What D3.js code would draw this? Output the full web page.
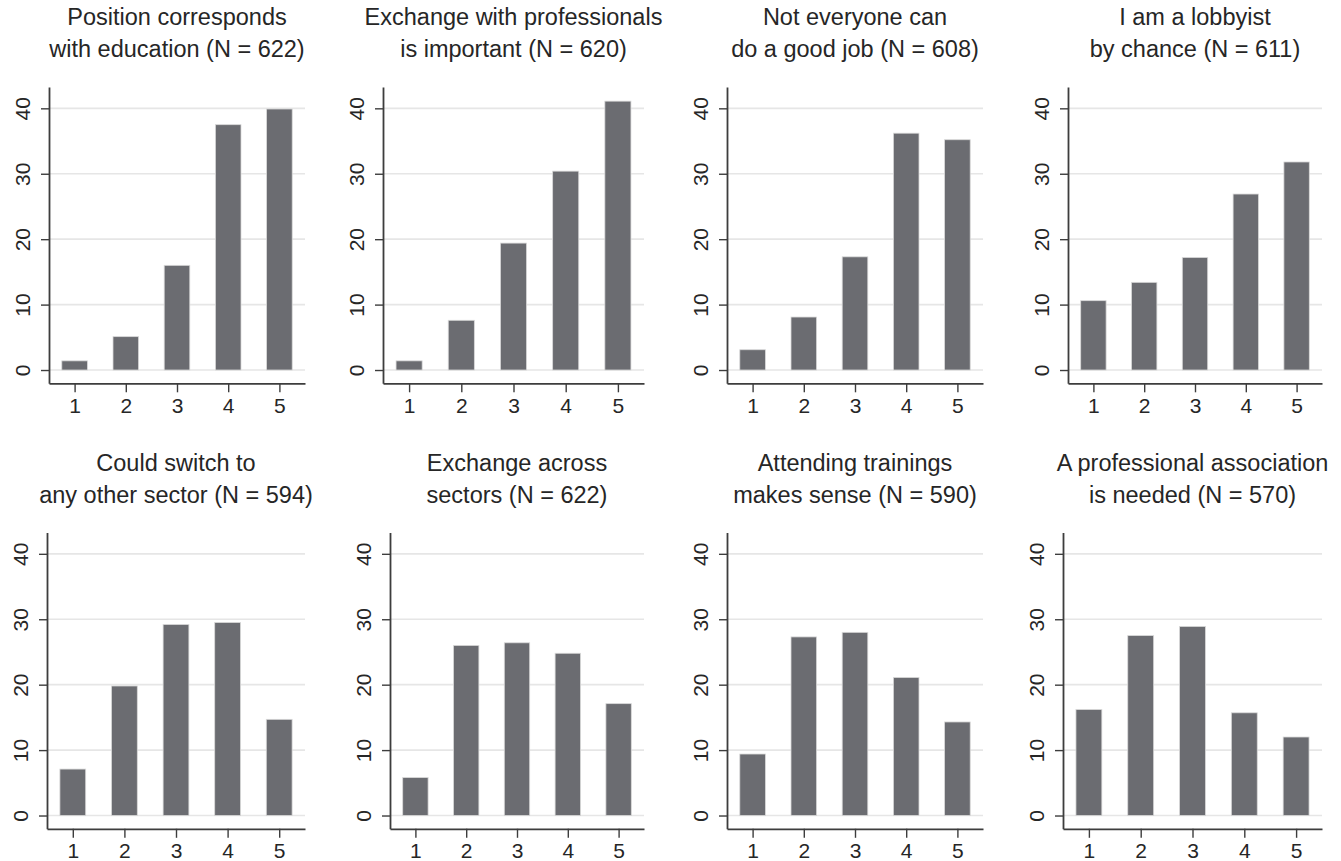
<!DOCTYPE html>
<html lang="en">
<head>
<meta charset="UTF-8">
<title>Lobbyist attitudes</title>
<script src="https://cdn.jsdelivr.net/npm/d3@7"></script>
<style>
  body { margin: 0; background: #fff; }
  svg { display: block; font-family: "Liberation Sans", Arial, sans-serif; }
</style>
</head>
<body>
<svg width="1341" height="861"></svg>
<script>
// answer categories (1 = disagree ... 5 = agree)
var categories = [1, 2, 3, 4, 5];
var yTicks = [0, 10, 20, 30, 40];

// panel titles (two lines each)
var titleLine1 = ["Position corresponds", "Exchange with professionals", "Not everyone can", "I am a lobbyist",
                  "Could switch to", "Exchange across", "Attending trainings", "A professional association"];
var titleLine2 = ["with education", "is important", "do a good job", "by chance",
                  "any other sector", "sectors", "makes sense", "is needed"];
var nValues = [622, 620, 608, 611, 594, 622, 590, 570];

// percent per category
var positionEducation = [1.4, 5.1, 16.0, 37.5, 39.9];
var exchangeProfessionals = [1.4, 7.6, 19.4, 30.4, 41.1];
var notEveryone = [3.1, 8.1, 17.3, 36.2, 35.2];
var byChance = [10.6, 13.4, 17.2, 26.9, 31.8];
var switchSector = [7.1, 19.8, 29.2, 29.5, 14.7];
var exchangeSectors = [5.8, 26.0, 26.4, 24.8, 17.1];
var trainings = [9.4, 27.3, 28.0, 21.1, 14.3];
var association = [16.2, 27.5, 28.9, 15.7, 12.0];

var series = [positionEducation, exchangeProfessionals, notEveryone, byChance,
              switchSector, exchangeSectors, trainings, association];

// layout
var plotLeft = [49, 383, 727, 1068, 47, 390, 727, 1063];
var plotRight = [305, 644, 983, 1322];
var rowOffset = [0, 445.5];
var fontStack = '"Liberation Sans", Arial, sans-serif';

var barColor = "#6b6c71";
var gridColor = "#e6e6e6";
var axisColor = "#3d3d3d";
var textColor = "#262626";

var svg = d3.select("svg");

series.forEach(function (vals, i) {
    var row = Math.floor(i / 4), col = i % 4;
    var off = rowOffset[row];
    var left = plotLeft[i], right = plotRight[col];

    var x = d3.scaleLinear().domain([0.5, 5.5]).range([left, right]);
    var y = d3.scaleLinear().domain([-2.03, 43.26]).range([383.3 + off, 87 + off]);

    var g = svg.append("g");

    // title
    var cx = (left + right) / 2;
    g.append("text").attr("x", cx).attr("y", 25 + off).attr("text-anchor", "middle")
        .attr("font-size", 23.5).attr("fill", textColor).text(titleLine1[i]);
    g.append("text").attr("x", cx).attr("y", 57.3 + off).attr("text-anchor", "middle")
        .attr("font-size", 23.5).attr("fill", textColor)
        .text(titleLine2[i] + " (N = " + nValues[i] + ")");

    // gridlines
    g.selectAll(".grid").data(yTicks).enter().append("line")
        .attr("x1", left).attr("x2", right)
        .attr("y1", function (d) { return y(d); }).attr("y2", function (d) { return y(d); })
        .attr("stroke", gridColor).attr("stroke-width", 1.6);

    // bars
    var bw = x(1.5) - x(1);
    g.selectAll(".bar").data(vals).enter().append("rect")
        .attr("x", function (d, j) { return x(categories[j]) - bw / 2; })
        .attr("y", function (d) { return y(d); })
        .attr("width", bw)
        .attr("height", function (d) { return y(0) - y(d); })
        .attr("fill", barColor)
        .attr("stroke", "#d9d9d9").attr("stroke-width", 0.8);

    // y axis
    var yAxis = d3.axisLeft(y).tickValues(yTicks).tickFormat(d3.format("d")).tickSize(8).tickSizeOuter(0);
    var ya = g.append("g").attr("transform", "translate(" + left + ",0)").call(yAxis)
        .attr("font-family", fontStack).attr("font-size", 21);
    ya.select(".domain").attr("stroke", axisColor).attr("stroke-width", 1.8);
    ya.selectAll(".tick line").attr("stroke", axisColor).attr("stroke-width", 1.4);
    ya.selectAll(".tick text")
        .attr("transform", "rotate(-90)")
        .attr("x", 0).attr("y", -19.5).attr("dy", 0)
        .attr("text-anchor", "middle")
        .attr("fill", textColor);

    // x axis
    var xAxis = d3.axisBottom(x).tickValues(categories).tickFormat(d3.format("d")).tickSize(9).tickSizeOuter(0);
    var xa = g.append("g").attr("transform", "translate(0," + (383.3 + off) + ")").call(xAxis)
        .attr("font-family", fontStack).attr("font-size", 21);
    xa.select(".domain").attr("stroke", axisColor).attr("stroke-width", 1.8);
    xa.selectAll(".tick line").attr("stroke", axisColor).attr("stroke-width", 1.4);
    xa.selectAll(".tick text")
        .attr("y", 29.4).attr("dy", 0)
        .attr("fill", textColor);
});
</script>
</body>
</html>
